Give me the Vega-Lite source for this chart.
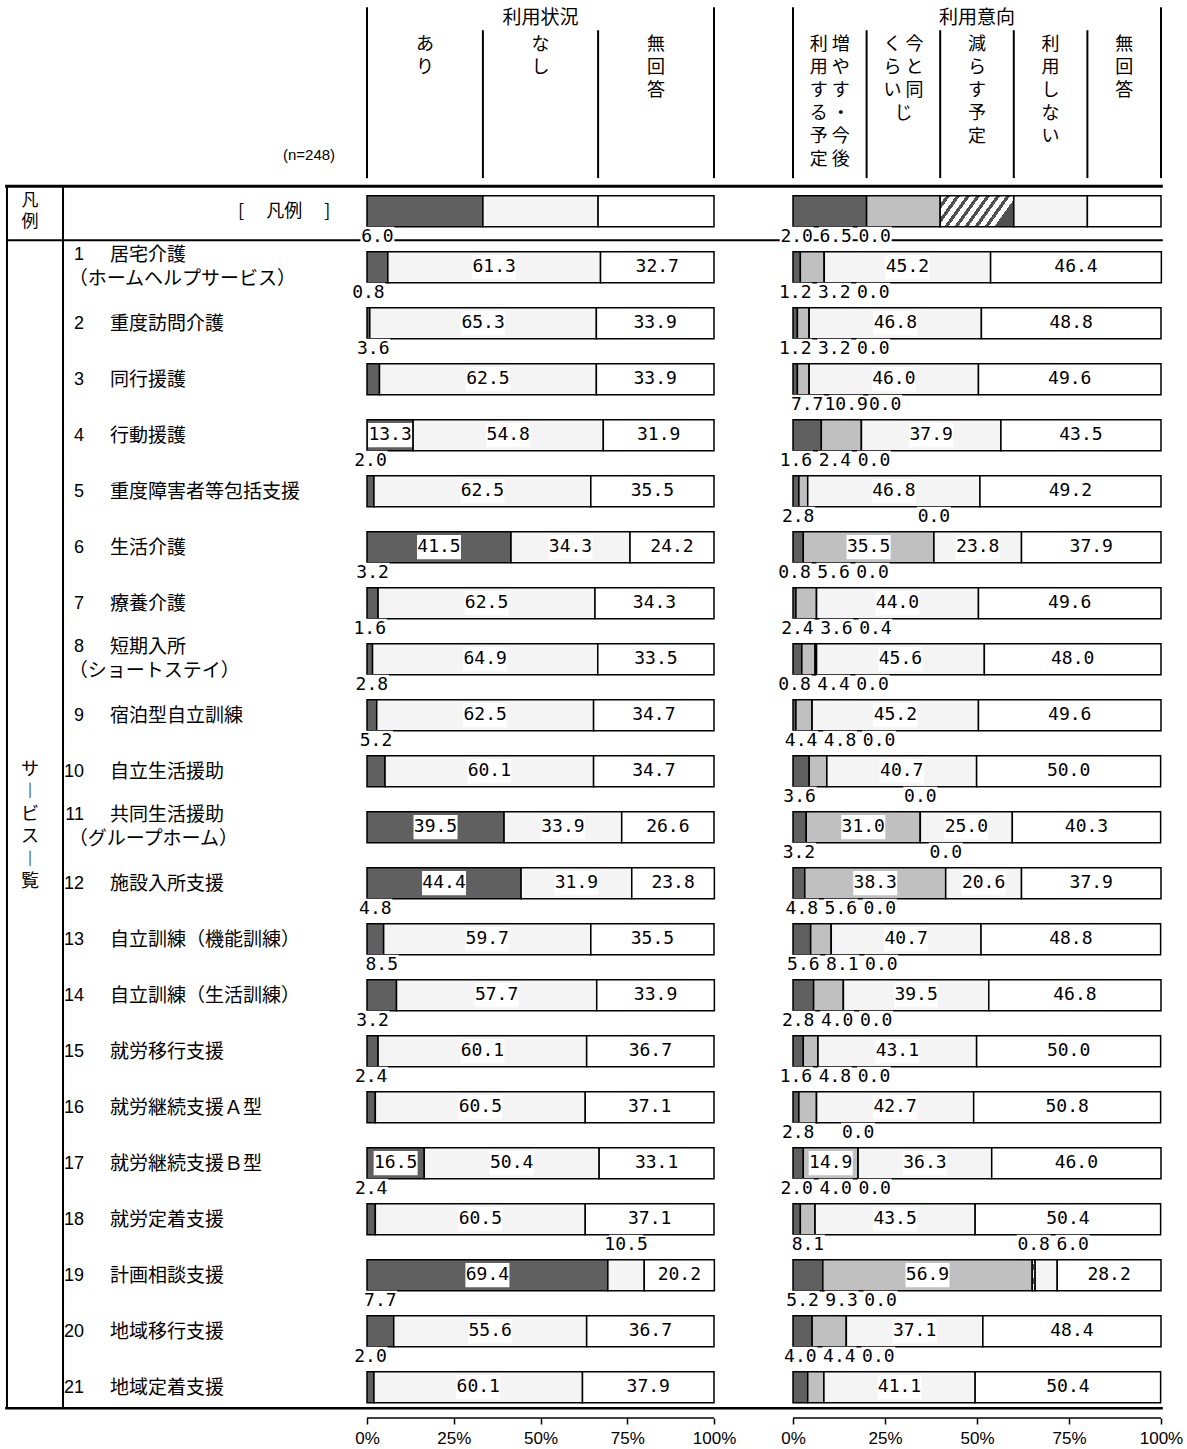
{
"$schema":"https://vega.github.io/schema/vega-lite/v6.json",
"padding":0,
"background":"white",
"spacing":0,
"bounds":"flush",
"config":{"view":{"stroke":null},"text":{"color":"black"},"rule":{"color":"black"}},
"resolve":{"scale":{"x":"independent","y":"independent","fill":"independent"}},
"datasets":{
"left":[
{"row":0,"cat":"あり","v":33.4,"head":"あ\nり"},{"row":0,"cat":"なし","v":33.2,"head":"な\nし"},{"row":0,"cat":"無回答","v":33.4,"head":"無\n回\n答"},
{"row":1,"cat":"あり","v":6.0},{"row":1,"cat":"なし","v":61.3},{"row":1,"cat":"無回答","v":32.7},
{"row":2,"cat":"あり","v":0.8},{"row":2,"cat":"なし","v":65.3},{"row":2,"cat":"無回答","v":33.9},
{"row":3,"cat":"あり","v":3.6},{"row":3,"cat":"なし","v":62.5},{"row":3,"cat":"無回答","v":33.9},
{"row":4,"cat":"あり","v":13.3},{"row":4,"cat":"なし","v":54.8},{"row":4,"cat":"無回答","v":31.9},
{"row":5,"cat":"あり","v":2.0},{"row":5,"cat":"なし","v":62.5},{"row":5,"cat":"無回答","v":35.5},
{"row":6,"cat":"あり","v":41.5},{"row":6,"cat":"なし","v":34.3},{"row":6,"cat":"無回答","v":24.2},
{"row":7,"cat":"あり","v":3.2},{"row":7,"cat":"なし","v":62.5},{"row":7,"cat":"無回答","v":34.3},
{"row":8,"cat":"あり","v":1.6},{"row":8,"cat":"なし","v":64.9},{"row":8,"cat":"無回答","v":33.5},
{"row":9,"cat":"あり","v":2.8},{"row":9,"cat":"なし","v":62.5},{"row":9,"cat":"無回答","v":34.7},
{"row":10,"cat":"あり","v":5.2},{"row":10,"cat":"なし","v":60.1},{"row":10,"cat":"無回答","v":34.7},
{"row":11,"cat":"あり","v":39.5},{"row":11,"cat":"なし","v":33.9},{"row":11,"cat":"無回答","v":26.6},
{"row":12,"cat":"あり","v":44.4},{"row":12,"cat":"なし","v":31.9},{"row":12,"cat":"無回答","v":23.8},
{"row":13,"cat":"あり","v":4.8},{"row":13,"cat":"なし","v":59.7},{"row":13,"cat":"無回答","v":35.5},
{"row":14,"cat":"あり","v":8.5},{"row":14,"cat":"なし","v":57.7},{"row":14,"cat":"無回答","v":33.9},
{"row":15,"cat":"あり","v":3.2},{"row":15,"cat":"なし","v":60.1},{"row":15,"cat":"無回答","v":36.7},
{"row":16,"cat":"あり","v":2.4},{"row":16,"cat":"なし","v":60.5},{"row":16,"cat":"無回答","v":37.1},
{"row":17,"cat":"あり","v":16.5},{"row":17,"cat":"なし","v":50.4},{"row":17,"cat":"無回答","v":33.1},
{"row":18,"cat":"あり","v":2.4},{"row":18,"cat":"なし","v":60.5},{"row":18,"cat":"無回答","v":37.1},
{"row":19,"cat":"あり","v":69.4},{"row":19,"cat":"なし","v":10.5},{"row":19,"cat":"無回答","v":20.2},
{"row":20,"cat":"あり","v":7.7},{"row":20,"cat":"なし","v":55.6},{"row":20,"cat":"無回答","v":36.7},
{"row":21,"cat":"あり","v":2.0},{"row":21,"cat":"なし","v":60.1},{"row":21,"cat":"無回答","v":37.9}
],
"right":[
{"row":0,"cat":"増やす・今後利用する予定","v":20,"head":"利 増\n用 や\nす す\nる ・\n予 今\n定 後"},{"row":0,"cat":"今と同じくらい","v":20,"head":"く 今\nら と\nい 同\n　 じ"},{"row":0,"cat":"減らす予定","v":20,"head":"減\nら\nす\n予\n定"},{"row":0,"cat":"利用しない","v":20,"head":"利\n用\nし\nな\nい"},{"row":0,"cat":"無回答","v":20,"head":"無\n回\n答"},
{"row":1,"cat":"増やす・今後利用する予定","v":2.0},{"row":1,"cat":"今と同じくらい","v":6.5},{"row":1,"cat":"減らす予定","v":0.0},{"row":1,"cat":"利用しない","v":45.2},{"row":1,"cat":"無回答","v":46.4},
{"row":2,"cat":"増やす・今後利用する予定","v":1.2},{"row":2,"cat":"今と同じくらい","v":3.2},{"row":2,"cat":"減らす予定","v":0.0},{"row":2,"cat":"利用しない","v":46.8},{"row":2,"cat":"無回答","v":48.8},
{"row":3,"cat":"増やす・今後利用する予定","v":1.2},{"row":3,"cat":"今と同じくらい","v":3.2},{"row":3,"cat":"減らす予定","v":0.0},{"row":3,"cat":"利用しない","v":46.0},{"row":3,"cat":"無回答","v":49.6},
{"row":4,"cat":"増やす・今後利用する予定","v":7.7},{"row":4,"cat":"今と同じくらい","v":10.9},{"row":4,"cat":"減らす予定","v":0.0},{"row":4,"cat":"利用しない","v":37.9},{"row":4,"cat":"無回答","v":43.5},
{"row":5,"cat":"増やす・今後利用する予定","v":1.6},{"row":5,"cat":"今と同じくらい","v":2.4},{"row":5,"cat":"減らす予定","v":0.0},{"row":5,"cat":"利用しない","v":46.8},{"row":5,"cat":"無回答","v":49.2},
{"row":6,"cat":"増やす・今後利用する予定","v":2.8},{"row":6,"cat":"今と同じくらい","v":35.5},{"row":6,"cat":"減らす予定","v":0.0},{"row":6,"cat":"利用しない","v":23.8},{"row":6,"cat":"無回答","v":37.9},
{"row":7,"cat":"増やす・今後利用する予定","v":0.8},{"row":7,"cat":"今と同じくらい","v":5.6},{"row":7,"cat":"減らす予定","v":0.0},{"row":7,"cat":"利用しない","v":44.0},{"row":7,"cat":"無回答","v":49.6},
{"row":8,"cat":"増やす・今後利用する予定","v":2.4},{"row":8,"cat":"今と同じくらい","v":3.6},{"row":8,"cat":"減らす予定","v":0.4},{"row":8,"cat":"利用しない","v":45.6},{"row":8,"cat":"無回答","v":48.0},
{"row":9,"cat":"増やす・今後利用する予定","v":0.8},{"row":9,"cat":"今と同じくらい","v":4.4},{"row":9,"cat":"減らす予定","v":0.0},{"row":9,"cat":"利用しない","v":45.2},{"row":9,"cat":"無回答","v":49.6},
{"row":10,"cat":"増やす・今後利用する予定","v":4.4},{"row":10,"cat":"今と同じくらい","v":4.8},{"row":10,"cat":"減らす予定","v":0.0},{"row":10,"cat":"利用しない","v":40.7},{"row":10,"cat":"無回答","v":50.0},
{"row":11,"cat":"増やす・今後利用する予定","v":3.6},{"row":11,"cat":"今と同じくらい","v":31.0},{"row":11,"cat":"減らす予定","v":0.0},{"row":11,"cat":"利用しない","v":25.0},{"row":11,"cat":"無回答","v":40.3},
{"row":12,"cat":"増やす・今後利用する予定","v":3.2},{"row":12,"cat":"今と同じくらい","v":38.3},{"row":12,"cat":"減らす予定","v":0.0},{"row":12,"cat":"利用しない","v":20.6},{"row":12,"cat":"無回答","v":37.9},
{"row":13,"cat":"増やす・今後利用する予定","v":4.8},{"row":13,"cat":"今と同じくらい","v":5.6},{"row":13,"cat":"減らす予定","v":0.0},{"row":13,"cat":"利用しない","v":40.7},{"row":13,"cat":"無回答","v":48.8},
{"row":14,"cat":"増やす・今後利用する予定","v":5.6},{"row":14,"cat":"今と同じくらい","v":8.1},{"row":14,"cat":"減らす予定","v":0.0},{"row":14,"cat":"利用しない","v":39.5},{"row":14,"cat":"無回答","v":46.8},
{"row":15,"cat":"増やす・今後利用する予定","v":2.8},{"row":15,"cat":"今と同じくらい","v":4.0},{"row":15,"cat":"減らす予定","v":0.0},{"row":15,"cat":"利用しない","v":43.1},{"row":15,"cat":"無回答","v":50.0},
{"row":16,"cat":"増やす・今後利用する予定","v":1.6},{"row":16,"cat":"今と同じくらい","v":4.8},{"row":16,"cat":"減らす予定","v":0.0},{"row":16,"cat":"利用しない","v":42.7},{"row":16,"cat":"無回答","v":50.8},
{"row":17,"cat":"増やす・今後利用する予定","v":2.8},{"row":17,"cat":"今と同じくらい","v":14.9},{"row":17,"cat":"減らす予定","v":0.0},{"row":17,"cat":"利用しない","v":36.3},{"row":17,"cat":"無回答","v":46.0},
{"row":18,"cat":"増やす・今後利用する予定","v":2.0},{"row":18,"cat":"今と同じくらい","v":4.0},{"row":18,"cat":"減らす予定","v":0.0},{"row":18,"cat":"利用しない","v":43.5},{"row":18,"cat":"無回答","v":50.4},
{"row":19,"cat":"増やす・今後利用する予定","v":8.1},{"row":19,"cat":"今と同じくらい","v":56.9},{"row":19,"cat":"減らす予定","v":0.8},{"row":19,"cat":"利用しない","v":6.0},{"row":19,"cat":"無回答","v":28.2},
{"row":20,"cat":"増やす・今後利用する予定","v":5.2},{"row":20,"cat":"今と同じくらい","v":9.3},{"row":20,"cat":"減らす予定","v":0.0},{"row":20,"cat":"利用しない","v":37.1},{"row":20,"cat":"無回答","v":48.4},
{"row":21,"cat":"増やす・今後利用する予定","v":4.0},{"row":21,"cat":"今と同じくらい","v":4.4},{"row":21,"cat":"減らす予定","v":0.0},{"row":21,"cat":"利用しない","v":41.1},{"row":21,"cat":"無回答","v":50.4}
],
"names":[
{"row":1,"num":"1","name":"居宅介護","sub":"（ホームヘルプサービス）"},
{"row":2,"num":"2","name":"重度訪問介護"},
{"row":3,"num":"3","name":"同行援護"},
{"row":4,"num":"4","name":"行動援護"},
{"row":5,"num":"5","name":"重度障害者等包括支援"},
{"row":6,"num":"6","name":"生活介護"},
{"row":7,"num":"7","name":"療養介護"},
{"row":8,"num":"8","name":"短期入所","sub":"（ショートステイ）"},
{"row":9,"num":"9","name":"宿泊型自立訓練"},
{"row":10,"num":"10","name":"自立生活援助"},
{"row":11,"num":"11","name":"共同生活援助","sub":"（グループホーム）"},
{"row":12,"num":"12","name":"施設入所支援"},
{"row":13,"num":"13","name":"自立訓練（機能訓練）"},
{"row":14,"num":"14","name":"自立訓練（生活訓練）"},
{"row":15,"num":"15","name":"就労移行支援"},
{"row":16,"num":"16","name":"就労継続支援Ａ型"},
{"row":17,"num":"17","name":"就労継続支援Ｂ型"},
{"row":18,"num":"18","name":"就労定着支援"},
{"row":19,"num":"19","name":"計画相談支援"},
{"row":20,"num":"20","name":"地域移行支援"},
{"row":21,"num":"21","name":"地域定着支援"}
]
},
"hconcat":[
{"width":347,"height":1418,
"layer":[
{"data":{"values":[{}]},"mark":{"type":"rule","strokeWidth":3},"encoding":{"x":{"datum":1.4,"type":"quantitative","scale":{"domain":[0,94.55],"nice":false,"zero":false,"padding":0},"axis":null},"x2":{"datum":94.55},"y":{"datum":-0.446,"type":"quantitative","scale":{"domain":[-3.77,21.55],"reverse":true,"nice":false,"zero":false,"padding":0},"axis":null}}},
{"data":{"values":[{}]},"mark":{"type":"rule","strokeWidth":2},"encoding":{"x":{"datum":1.9,"type":"quantitative","axis":null},"x2":{"datum":94.55},"y":{"datum":0.518,"type":"quantitative","axis":null}}},
{"data":{"values":[{}]},"mark":{"type":"rule","strokeWidth":2.5},"encoding":{"x":{"datum":1.4,"type":"quantitative","axis":null},"x2":{"datum":94.55},"y":{"datum":21.375,"type":"quantitative","axis":null}}},
{"data":{"values":[{}]},"mark":{"type":"rule","strokeWidth":2},"encoding":{"x":{"datum":1.9,"type":"quantitative","axis":null},"y":{"datum":-0.446,"type":"quantitative","axis":null},"y2":{"datum":21.375}}},
{"data":{"values":[{}]},"mark":{"type":"rule","strokeWidth":2},"encoding":{"x":{"datum":17.17,"type":"quantitative","axis":null},"y":{"datum":-0.446,"type":"quantitative","axis":null},"y2":{"datum":21.375}}},
{"data":{"values":[{}]},"mark":{"type":"text","text":"凡\n例","lineBreak":"\n","lineHeight":21,"fontSize":17,"baseline":"middle","align":"center","font":"Noto Sans CJK JP"},"encoding":{"x":{"datum":8.2,"type":"quantitative","axis":null},"y":{"datum":-0.18,"type":"quantitative","axis":null}}},
{"data":{"values":[{}]},"mark":{"type":"text","text":"[ 　凡例　 ]","fontSize":18,"baseline":"middle","align":"right","font":"Noto Sans CJK JP"},"encoding":{"x":{"datum":90,"type":"quantitative","axis":null},"y":{"datum":0.02,"type":"quantitative","axis":null}}},
{"data":{"values":[{}]},"mark":{"type":"text","text":"(n=248)","fontSize":15,"baseline":"middle","align":"right","font":"Liberation Sans Narrow, Liberation Sans, sans-serif"},"encoding":{"x":{"datum":91.3,"type":"quantitative","axis":null},"y":{"datum":-1.0,"type":"quantitative","axis":null}}},
{"data":{"values":[{}]},"mark":{"type":"text","text":"サ\n︱\nビ\nス\n︱\n覧","lineBreak":"\n","lineHeight":22.4,"fontSize":18,"baseline":"middle","align":"center","font":"Noto Sans CJK JP"},"encoding":{"x":{"datum":8.2,"type":"quantitative","axis":null},"y":{"datum":9.98,"type":"quantitative","axis":null}}},
{"data":{"name":"names"},"transform":[{"filter":"isValid(datum.sub)"}],
 "layer":[
 {"mark":{"type":"text","align":"right","baseline":"middle","dy":-12,"fontSize":18,"font":"Liberation Sans Narrow, Liberation Sans, sans-serif"},"encoding":{"x":{"datum":22.9,"type":"quantitative","axis":null},"y":{"field":"row","type":"quantitative","axis":null},"text":{"field":"num","type":"nominal"}}},
 {"mark":{"type":"text","align":"left","baseline":"middle","dy":-12,"fontSize":19,"font":"Noto Sans CJK JP"},"encoding":{"x":{"datum":30,"type":"quantitative","axis":null},"y":{"field":"row","type":"quantitative","axis":null},"text":{"field":"name","type":"nominal"}}},
 {"mark":{"type":"text","align":"left","baseline":"middle","dy":12,"fontSize":19,"font":"Noto Sans CJK JP"},"encoding":{"x":{"datum":18.7,"type":"quantitative","axis":null},"y":{"field":"row","type":"quantitative","axis":null},"text":{"field":"sub","type":"nominal"}}}
 ]},
{"data":{"name":"names"},"transform":[{"filter":"!isValid(datum.sub)"}],
 "layer":[
 {"mark":{"type":"text","align":"right","baseline":"middle","dy":1,"fontSize":18,"font":"Liberation Sans Narrow, Liberation Sans, sans-serif"},"encoding":{"x":{"datum":22.9,"type":"quantitative","axis":null},"y":{"field":"row","type":"quantitative","axis":null},"text":{"field":"num","type":"nominal"}}},
 {"mark":{"type":"text","align":"left","baseline":"middle","dy":1,"fontSize":19,"font":"Noto Sans CJK JP"},"encoding":{"x":{"datum":30,"type":"quantitative","axis":null},"y":{"field":"row","type":"quantitative","axis":null},"text":{"field":"name","type":"nominal"}}}
 ]}
]},
{"width":426,"height":1418,
"layer":[
{"data":{"values":[{}]},"mark":{"type":"rule","strokeWidth":3},"encoding":{"x":{"datum":-5.764,"type":"quantitative","scale":{"domain":[-5.764,117.0],"nice":false,"zero":false,"padding":0},"axis":{"values":[0,25,50,75,100],"labelExpr":"datum.value + '%'","domain":false,"ticks":true,"tickSize":6,"tickWidth":1.5,"tickColor":"black","grid":false,"title":null,"labelFlush":false,"labelFont":"Liberation Sans Narrow, Liberation Sans, sans-serif","labelFontSize":17,"labelColor":"black","labelPadding":6}},"x2":{"datum":117.0},"y":{"datum":-0.446,"type":"quantitative","scale":{"domain":[-3.77,21.55],"reverse":true,"nice":false,"zero":false,"padding":0},"axis":null}}},
{"data":{"values":[{}]},"mark":{"type":"rule","strokeWidth":2},"encoding":{"x":{"datum":-5.764,"type":"quantitative"},"x2":{"datum":117.0},"y":{"datum":0.518,"type":"quantitative","axis":null}}},
{"data":{"values":[{}]},"mark":{"type":"rule","strokeWidth":2.5},"encoding":{"x":{"datum":-5.764,"type":"quantitative"},"x2":{"datum":117.0},"y":{"datum":21.375,"type":"quantitative","axis":null}}},
{"data":{"values":[{}]},"mark":{"type":"rule","strokeWidth":1.5},"encoding":{"x":{"datum":0,"type":"quantitative"},"x2":{"datum":100},"y":{"datum":21.55,"type":"quantitative","axis":null}}},
{"data":{"values":[{}]},"mark":{"type":"rule","strokeWidth":2},"encoding":{"x":{"datum":0,"type":"quantitative"},"y":{"datum":-3.64,"type":"quantitative","axis":null},"y2":{"datum":-0.59}}},
{"data":{"values":[{}]},"mark":{"type":"rule","strokeWidth":2},"encoding":{"x":{"datum":100,"type":"quantitative"},"y":{"datum":-3.64,"type":"quantitative","axis":null},"y2":{"datum":-0.59}}},
{"data":{"values":[{}]},"mark":{"type":"text","text":"利用状況","fontSize":19,"baseline":"middle","align":"center","font":"Noto Sans CJK JP"},"encoding":{"x":{"datum":50,"type":"quantitative"},"y":{"datum":-3.446,"type":"quantitative","axis":null}}},
{"data":{"name":"left"},
 "transform":[{"window":[{"op":"row_number","as":"k"}],"groupby":["row"]},{"stack":"v","groupby":["row"],"sort":[{"field":"k","order":"ascending"}],"as":["x0","x1"]},{"calculate":"(datum.x0+datum.x1)/2","as":"mid"}],
 "layer":[
 {"mark":{"type":"bar","height":31,"stroke":"black","strokeWidth":1.5},"encoding":{"x":{"field":"x0","type":"quantitative"},"x2":{"field":"x1"},"y":{"field":"row","type":"quantitative","axis":null},"fill":{"field":"cat","type":"nominal","scale":{"domain":["あり","なし","無回答"],"range":["#606060","#f4f4f4","#ffffff"]},"legend":null}}},
 {"transform":[{"filter":"datum.row === 0"}],"mark":{"type":"rule","strokeWidth":2},"encoding":{"x":{"field":"x0","type":"quantitative"},"y":{"datum":-3.23,"type":"quantitative","axis":null},"y2":{"datum":-0.59}}},
 {"transform":[{"filter":"datum.row === 0"}],"mark":{"type":"text","fontSize":18,"lineBreak":"\n","lineHeight":23,"baseline":"top","align":"center","font":"Noto Sans CJK JP"},"encoding":{"x":{"field":"mid","type":"quantitative"},"y":{"datum":-3.125,"type":"quantitative","axis":null},"text":{"field":"head","type":"nominal"}}},
 {"transform":[{"filter":"datum.row > 0 && datum.v >= 12"}],"layer":[
  {"mark":{"type":"point","shape":"M-1,-0.55H1V0.55H-1Z","size":1936,"filled":true,"color":"white","opacity":1,"strokeWidth":0},"encoding":{"x":{"field":"mid","type":"quantitative"},"y":{"field":"row","type":"quantitative","axis":null}}},
  {"mark":{"type":"text","font":"DejaVu Sans Mono","fontSize":18,"baseline":"middle","align":"center"},"encoding":{"x":{"field":"mid","type":"quantitative"},"y":{"field":"row","type":"quantitative","axis":null},"text":{"field":"v","type":"quantitative","format":".1f"}}}
 ]},
 {"transform":[{"filter":"datum.row > 0 && datum.v < 12"},{"window":[{"op":"lag","field":"mid","param":1,"as":"p1"},{"op":"lag","field":"mid","param":2,"as":"p2"}],"groupby":["row"],"sort":[{"field":"k","order":"ascending"}]},{"calculate":"max(datum.mid, isValid(datum.p1) ? datum.p1 + 11.2 : -99, isValid(datum.p2) ? datum.p2 + 22.4 : -99)","as":"lx"},{"calculate":"datum.row - 0.54","as":"ly"}],
  "layer":[
  {"mark":{"type":"point","shape":"M-1,-0.6H1V0.6H-1Z","size":1156,"filled":true,"color":"white","opacity":1,"strokeWidth":0},"encoding":{"x":{"field":"lx","type":"quantitative"},"y":{"field":"ly","type":"quantitative","axis":null}}},
  {"mark":{"type":"text","font":"DejaVu Sans Mono","fontSize":18,"baseline":"middle","align":"center"},"encoding":{"x":{"field":"lx","type":"quantitative"},"y":{"field":"ly","type":"quantitative","axis":null},"text":{"field":"v","type":"quantitative","format":".1f"}}}
 ]}
 ]}
]},
{"width":414,"height":1418,
"layer":[
{"data":{"values":[{}]},"mark":{"type":"rule","strokeWidth":3},"encoding":{"x":{"datum":-5.435,"type":"quantitative","scale":{"domain":[-5.435,107.07],"nice":false,"zero":false,"padding":0},"axis":{"values":[0,25,50,75,100],"labelExpr":"datum.value + '%'","domain":false,"ticks":true,"tickSize":6,"tickWidth":1.5,"tickColor":"black","grid":false,"title":null,"labelFlush":false,"labelFont":"Liberation Sans Narrow, Liberation Sans, sans-serif","labelFontSize":17,"labelColor":"black","labelPadding":6}},"x2":{"datum":100.5},"y":{"datum":-0.446,"type":"quantitative","scale":{"domain":[-3.77,21.55],"reverse":true,"nice":false,"zero":false,"padding":0},"axis":null}}},
{"data":{"values":[{}]},"mark":{"type":"rule","strokeWidth":2},"encoding":{"x":{"datum":-5.435,"type":"quantitative"},"x2":{"datum":100.5},"y":{"datum":0.518,"type":"quantitative","axis":null}}},
{"data":{"values":[{}]},"mark":{"type":"rule","strokeWidth":2.5},"encoding":{"x":{"datum":-5.435,"type":"quantitative"},"x2":{"datum":100.5},"y":{"datum":21.375,"type":"quantitative","axis":null}}},
{"data":{"values":[{}]},"mark":{"type":"rule","strokeWidth":1.5},"encoding":{"x":{"datum":0,"type":"quantitative"},"x2":{"datum":100},"y":{"datum":21.55,"type":"quantitative","axis":null}}},
{"data":{"values":[{}]},"mark":{"type":"rule","strokeWidth":2},"encoding":{"x":{"datum":0,"type":"quantitative"},"y":{"datum":-3.64,"type":"quantitative","axis":null},"y2":{"datum":-0.59}}},
{"data":{"values":[{}]},"mark":{"type":"rule","strokeWidth":2},"encoding":{"x":{"datum":100,"type":"quantitative"},"y":{"datum":-3.64,"type":"quantitative","axis":null},"y2":{"datum":-0.59}}},
{"data":{"values":[{}]},"mark":{"type":"text","text":"利用意向","fontSize":19,"baseline":"middle","align":"center","font":"Noto Sans CJK JP"},"encoding":{"x":{"datum":50,"type":"quantitative"},"y":{"datum":-3.446,"type":"quantitative","axis":null}}},
{"data":{"name":"right"},
 "transform":[{"window":[{"op":"row_number","as":"k"}],"groupby":["row"]},{"stack":"v","groupby":["row"],"sort":[{"field":"k","order":"ascending"}],"as":["x0","x1"]},{"calculate":"(datum.x0+datum.x1)/2","as":"mid"}],
 "layer":[
 {"mark":{"type":"bar","height":31,"stroke":"black","strokeWidth":1.5},"encoding":{"x":{"field":"x0","type":"quantitative"},"x2":{"field":"x1"},"y":{"field":"row","type":"quantitative","axis":null},
  "fill":{"condition":{"test":"datum.cat === '減らす予定'","value":{"gradient":"linear","x1":0,"y1":0,"x2":1,"y2":0.3,"stops":[{"offset":0,"color":"#ffffff"},{"offset":0.075,"color":"#ffffff"},{"offset":0.075,"color":"#505050"},{"offset":0.125,"color":"#505050"},{"offset":0.125,"color":"#ffffff"},{"offset":0.2,"color":"#ffffff"},{"offset":0.2,"color":"#505050"},{"offset":0.25,"color":"#505050"},{"offset":0.25,"color":"#ffffff"},{"offset":0.325,"color":"#ffffff"},{"offset":0.325,"color":"#505050"},{"offset":0.375,"color":"#505050"},{"offset":0.375,"color":"#ffffff"},{"offset":0.45,"color":"#ffffff"},{"offset":0.45,"color":"#505050"},{"offset":0.5,"color":"#505050"},{"offset":0.5,"color":"#ffffff"},{"offset":0.575,"color":"#ffffff"},{"offset":0.575,"color":"#505050"},{"offset":0.625,"color":"#505050"},{"offset":0.625,"color":"#ffffff"},{"offset":0.7,"color":"#ffffff"},{"offset":0.7,"color":"#505050"},{"offset":0.75,"color":"#505050"},{"offset":0.75,"color":"#ffffff"},{"offset":0.825,"color":"#ffffff"},{"offset":0.825,"color":"#505050"},{"offset":0.875,"color":"#505050"},{"offset":0.875,"color":"#ffffff"},{"offset":0.95,"color":"#ffffff"},{"offset":0.95,"color":"#505050"},{"offset":1,"color":"#505050"}]}},
   "field":"cat","type":"nominal","scale":{"domain":["増やす・今後利用する予定","今と同じくらい","減らす予定","利用しない","無回答"],"range":["#606060","#c0c0c0","#8c8c8c","#f4f4f4","#ffffff"]},"legend":null}}},
 {"transform":[{"filter":"datum.row === 0"}],"mark":{"type":"rule","strokeWidth":2},"encoding":{"x":{"field":"x0","type":"quantitative"},"y":{"datum":-3.23,"type":"quantitative","axis":null},"y2":{"datum":-0.59}}},
 {"transform":[{"filter":"datum.row === 0"}],"mark":{"type":"text","fontSize":18,"lineBreak":"\n","lineHeight":23,"baseline":"top","align":"center","font":"Noto Sans CJK JP"},"encoding":{"x":{"field":"mid","type":"quantitative"},"y":{"datum":-3.125,"type":"quantitative","axis":null},"text":{"field":"head","type":"nominal"}}},
 {"transform":[{"filter":"datum.row > 0 && datum.v >= 12"}],"layer":[
  {"mark":{"type":"point","shape":"M-1,-0.55H1V0.55H-1Z","size":1936,"filled":true,"color":"white","opacity":1,"strokeWidth":0},"encoding":{"x":{"field":"mid","type":"quantitative"},"y":{"field":"row","type":"quantitative","axis":null}}},
  {"mark":{"type":"text","font":"DejaVu Sans Mono","fontSize":18,"baseline":"middle","align":"center"},"encoding":{"x":{"field":"mid","type":"quantitative"},"y":{"field":"row","type":"quantitative","axis":null},"text":{"field":"v","type":"quantitative","format":".1f"}}}
 ]},
 {"transform":[{"filter":"datum.row > 0 && datum.v < 12"},{"window":[{"op":"lag","field":"mid","param":1,"as":"p1"},{"op":"lag","field":"mid","param":2,"as":"p2"}],"groupby":["row"],"sort":[{"field":"k","order":"ascending"}]},{"calculate":"max(datum.mid, isValid(datum.p1) ? datum.p1 + 10.6 : -99, isValid(datum.p2) ? datum.p2 + 21.2 : -99)","as":"lx"},{"calculate":"datum.row - 0.54","as":"ly"}],
  "layer":[
  {"mark":{"type":"point","shape":"M-1,-0.6H1V0.6H-1Z","size":1156,"filled":true,"color":"white","opacity":1,"strokeWidth":0},"encoding":{"x":{"field":"lx","type":"quantitative"},"y":{"field":"ly","type":"quantitative","axis":null}}},
  {"mark":{"type":"text","font":"DejaVu Sans Mono","fontSize":18,"baseline":"middle","align":"center"},"encoding":{"x":{"field":"lx","type":"quantitative"},"y":{"field":"ly","type":"quantitative","axis":null},"text":{"field":"v","type":"quantitative","format":".1f"}}}
 ]}
 ]}
]}
]
}
